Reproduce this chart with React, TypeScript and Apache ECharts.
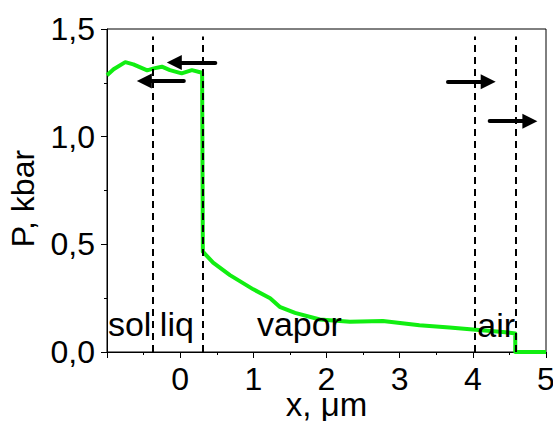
import React, { useEffect, useRef } from "react";
import * as echarts from "echarts";

// Pressure profile P(x)
const xPos: number[] = [-1.0, -0.91, -0.75, -0.64, -0.45, -0.36, -0.25, -0.14, 0.02, 0.16, 0.3, 0.31, 0.45, 0.68, 1.0, 1.23, 1.36, 1.57, 1.91, 2.32, 2.77, 3.27, 3.68, 4.0, 4.41, 4.58, 4.58, 5.0];
const pressure: number[] = [1.285, 1.313, 1.346, 1.336, 1.308, 1.317, 1.325, 1.309, 1.294, 1.309, 1.297, 0.466, 0.415, 0.357, 0.291, 0.25, 0.21, 0.182, 0.151, 0.14, 0.144, 0.124, 0.114, 0.104, 0.093, 0.086, 0, 0];

// Boundaries (dashed lines)
const boundaries: number[] = [-0.37, 0.31, 4.03, 4.58];
const boundaryTop = 1.465;

// Arrows: [xFrom, xTo, y]
const arrowFromX: number[] = [0.48, 0.05, 3.66, 4.23];
const arrowToX: number[] = [-0.08, -0.49, 4.21, 4.78];
const arrowY: number[] = [1.344, 1.258, 1.255, 1.072];

// Region labels
const regionNames: string[] = ["sol", "liq", "vapor", "air"];
const regionX: number[] = [-0.69, -0.045, 1.63, 4.32];
const regionY: number[] = [0.129, 0.129, 0.129, 0.125];

const xTicks = { min: -1, max: 5, interval: 1 };
const yTicks = { min: 0, max: 1.5, interval: 0.5 };

const FONT = "Liberation Sans, Arial, sans-serif";
const TRIANGLE = "path://M6,0 L12,16 L0,16 Z";

export default function App() {
  const ref = useRef<HTMLDivElement>(null);
  useEffect(() => {
    if (!ref.current) return;
    const chart = echarts.init(ref.current, undefined, { renderer: "svg" });
    const lineData = xPos.map((x, i) => [x, pressure[i]]);
    const dashed = boundaries.map((x) => [
      { coord: [x, 0] },
      { coord: [x, boundaryTop] },
    ]);
    const arrows = arrowFromX.map((x, i) => [
      { coord: [x, arrowY[i]] },
      { coord: [arrowToX[i], arrowY[i]] },
    ]);
    const labels = regionNames.map((n, i) => ({ name: n, value: [regionX[i], regionY[i]] }));
    chart.setOption({
      animation: false,
      backgroundColor: "#ffffff",
      grid: {
        left: 107,
        top: 29,
        right: 7,
        bottom: 69,
        outerBoundsMode: "none",
        containLabel: false,
        show: true,
        borderColor: "#000",
        borderWidth: 1,
        backgroundColor: "transparent",
      },
      xAxis: {
        type: "value",
        min: xTicks.min,
        max: xTicks.max,
        interval: xTicks.interval,
        name: "x, μm",
        nameLocation: "middle",
        nameGap: 40,
        nameMoveOverlap: false,
        nameTextStyle: { fontFamily: FONT, fontSize: 33, lineHeight: 24, color: "#000" },
        axisLine: { onZero: false, lineStyle: { color: "#000", width: 1 } },
        axisTick: { show: true, inside: false, length: 6, lineStyle: { color: "#000" } },
        minorTick: { show: true, splitNumber: 2, length: 3, lineStyle: { color: "#000" } },
        splitLine: { show: false },
        axisLabel: {
          margin: 15,
          fontFamily: FONT,
          fontSize: 32,
          lineHeight: 24,
          color: "#000",
          formatter: (v: number) => (v === -1 ? "" : String(v)),
        },
      },
      yAxis: {
        type: "value",
        min: yTicks.min,
        max: yTicks.max,
        interval: yTicks.interval,
        name: "P, kbar",
        nameLocation: "middle",
        nameRotate: 90,
        nameGap: 68,
        nameMoveOverlap: false,
        nameTextStyle: { fontFamily: FONT, fontSize: 32, color: "#000", padding: [0, 16, 0, 0] },
        axisLine: { show: true, onZero: false, lineStyle: { color: "#000", width: 1 } },
        axisTick: { show: true, inside: false, length: 6, lineStyle: { color: "#000" } },
        minorTick: { show: true, splitNumber: 2, length: 3, lineStyle: { color: "#000" } },
        splitLine: { show: false },
        axisLabel: {
          margin: 12,
          fontFamily: FONT,
          fontSize: 32,
          color: "#000",
          formatter: (v: number) => v.toFixed(1).replace(".", ","),
        },
      },
      series: [
        {
          type: "line",
          data: lineData,
          showSymbol: false,
          symbol: "none",
          lineStyle: { color: "#11ee11", width: 4, join: "round" },
          z: 3,
          silent: true,
        },
        {
          type: "line",
          data: [],
          silent: true,
          markLine: {
            silent: true,
            symbol: ["none", "none"],
            label: { show: false },
            lineStyle: { color: "#000", width: 2, type: [7, 5] },
            emphasis: { disabled: true },
            data: dashed,
          },
          z: 2,
        },
        {
          type: "line",
          data: [],
          silent: true,
          markLine: {
            silent: true,
            symbol: ["none", TRIANGLE],
            symbolSize: 15,
            label: { show: false },
            lineStyle: { color: "#000", width: 4, type: "solid", cap: "round", opacity: 1 },
            itemStyle: { color: "#000" },
            emphasis: { disabled: true },
            data: arrows,
          },
          z: 4,
        },
        {
          type: "scatter",
          data: labels,
          symbolSize: 0,
          silent: true,
          label: {
            show: true,
            position: [0, 0],
            align: "center",
            verticalAlign: "middle",
            formatter: (p: any) => p.name,
            fontFamily: FONT,
            fontSize: 34,
            color: "#000",
            opacity: 1,
          },
          z: 5,
        },
      ],
    });
    return () => chart.dispose();
  }, []);
  return (
    <div
      ref={ref}
      style={{ position: "absolute", left: 0, top: 0, width: 553, height: 421 }}
    />
  );
}
